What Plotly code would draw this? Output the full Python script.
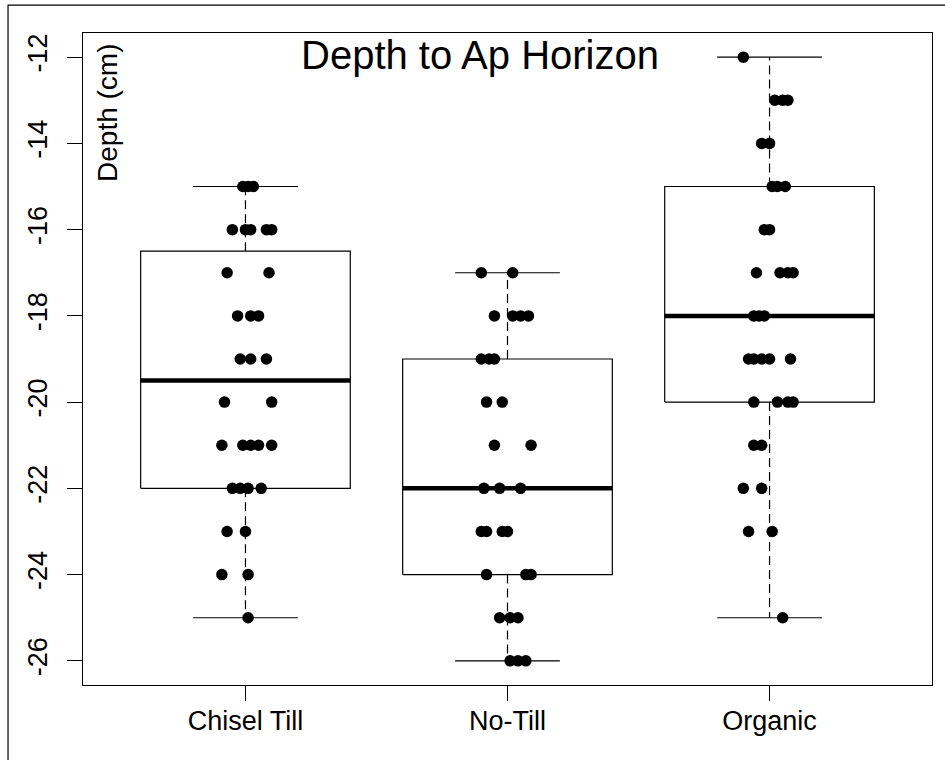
import math
import plotly.graph_objects as go

# ---- data ----
categories = ["Chisel Till", "No-Till", "Organic"]

chisel_depth = [-15, -15, -15,
                -16, -16, -16, -16, -16,
                -17, -17,
                -18, -18, -18,
                -19, -19, -19,
                -20, -20,
                -21, -21, -21, -21, -21,
                -22, -22, -22, -22,
                -23, -23,
                -24, -24,
                -25]
chisel_jitter = [-0.01, 0.01, 0.03,
                 -0.05, 0.00, 0.02, 0.08, 0.10,
                 -0.07, 0.09,
                 -0.03, 0.02, 0.05,
                 -0.02, 0.02, 0.08,
                 -0.08, 0.10,
                 -0.09, -0.01, 0.02, 0.05, 0.10,
                 -0.05, -0.02, 0.01, 0.06,
                 -0.07, 0.00,
                 -0.09, 0.01,
                 0.01]

notill_depth = [-17, -17,
                -18, -18, -18, -18,
                -19, -19, -19,
                -20, -20,
                -21, -21,
                -22, -22, -22,
                -23, -23, -23, -23,
                -24, -24, -24,
                -25, -25, -25,
                -26, -26, -26]
notill_jitter = [-0.10, 0.02,
                 -0.05, 0.02, 0.05, 0.08,
                 -0.10, -0.07, -0.05,
                 -0.08, -0.02,
                 -0.05, 0.09,
                 -0.09, -0.03, 0.05,
                 -0.10, -0.08, -0.02, 0.00,
                 -0.08, 0.07, 0.09,
                 -0.03, 0.01, 0.04,
                 0.01, 0.04, 0.07]

organic_depth = [-12,
                 -13, -13, -13,
                 -14, -14,
                 -15, -15, -15,
                 -16, -16,
                 -17, -17, -17, -17,
                 -18, -18, -18,
                 -19, -19, -19, -19, -19,
                 -20, -20, -20, -20,
                 -21, -21,
                 -22, -22,
                 -23, -23,
                 -25]
organic_jitter = [-0.10,
                  0.02, 0.05, 0.07,
                  -0.03, 0.00,
                  0.01, 0.03, 0.06,
                  -0.02, 0.00,
                  -0.05, 0.04, 0.07, 0.09,
                  -0.06, -0.04, -0.02,
                  -0.08, -0.06, -0.03, 0.00, 0.08,
                  -0.06, 0.03, 0.07, 0.09,
                  -0.06, -0.03,
                  -0.10, -0.03,
                  -0.08, 0.01,
                  0.05]

y_ticks = [-26, -24, -22, -20, -18, -16, -14, -12]
title_text = "Depth to Ap Horizon"
y_label = "Depth (cm)"

groups = [chisel_depth, notill_depth, organic_depth]
jitters = [chisel_jitter, notill_jitter, organic_jitter]


def fivenum(v):
    x = sorted(v)
    n = len(x)
    n4 = math.floor((n + 3) / 2) / 2
    d = [1, n4, (n + 1) / 2, n + 1 - n4, n]
    return [0.5 * (x[math.floor(k - 1)] + x[math.ceil(k - 1)]) for k in d]


fig = go.Figure()
half_box = 0.4
half_staple = 0.2
dash_style = "9px,5px"

for i, vals in enumerate(groups):
    pos = i + 1
    lo, q1, med, q3, hi = fivenum(vals)
    # box
    fig.add_trace(go.Scatter(
        x=[pos - half_box, pos + half_box, pos + half_box, pos - half_box, pos - half_box],
        y=[q1, q1, q3, q3, q1], mode="lines",
        line=dict(color="black", width=1.2), fill="toself", fillcolor="white",
        showlegend=False, hoverinfo="skip"))
    # whiskers
    fig.add_trace(go.Scatter(x=[pos, pos], y=[q3, hi], mode="lines",
                             line=dict(color="black", width=1.2, dash=dash_style),
                             showlegend=False, hoverinfo="skip"))
    fig.add_trace(go.Scatter(x=[pos, pos], y=[q1, lo], mode="lines",
                             line=dict(color="black", width=1.2, dash=dash_style),
                             showlegend=False, hoverinfo="skip"))
    # staples
    for s in (lo, hi):
        fig.add_trace(go.Scatter(x=[pos - half_staple, pos + half_staple], y=[s, s],
                                 mode="lines", line=dict(color="black", width=1.2),
                                 showlegend=False, hoverinfo="skip"))
    # median
    fig.add_trace(go.Scatter(x=[pos - half_box, pos + half_box], y=[med, med],
                             mode="lines", line=dict(color="black", width=4.5),
                             showlegend=False, hoverinfo="skip"))

for i, (vals, jit) in enumerate(zip(groups, jitters)):
    pos = i + 1
    fig.add_trace(go.Scatter(
        x=[pos + j for j in jit], y=vals, mode="markers",
        marker=dict(color="black", size=11.5, line=dict(width=0)),
        showlegend=False, hoverinfo="skip"))

font_family = "Liberation Sans, Arial, sans-serif"

fig.update_layout(
    width=945, height=760,
    margin=dict(l=83, r=13, t=33, b=75),
    paper_bgcolor="white", plot_bgcolor="white",
    font=dict(family=font_family, color="black", size=27),
    xaxis=dict(range=[0.38, 3.62], tickvals=[1, 2, 3], ticktext=categories,
               showgrid=False, zeroline=False, showline=True, mirror=True,
               linecolor="black", linewidth=1.2, ticks="outside", ticklen=15,
               tickcolor="black", tickwidth=1.2, tickfont=dict(size=27),
               ticklabelstandoff=-4),
    yaxis=dict(range=[-26.56, -11.44], tickvals=y_ticks,
               ticktext=[str(t) for t in y_ticks],
               showgrid=False, zeroline=False, showline=True, mirror=True,
               linecolor="black", linewidth=1.2, ticks="outside", ticklen=15,
               tickcolor="black", tickwidth=1.2, tickangle=-90,
               tickfont=dict(size=27), ticklabelstandoff=9),
    annotations=[
        dict(text=title_text, xref="paper", yref="paper", x=0.4676, y=0.966,
             xanchor="center", yanchor="middle", showarrow=False,
             font=dict(size=40, family=font_family, color="black")),
        dict(text=y_label, xref="paper", yref="paper", x=0.028, y=0.877,
             xanchor="center", yanchor="middle", textangle=-90, showarrow=False,
             font=dict(size=28, family=font_family, color="black")),
    ],
    shapes=[dict(type="rect", xref="paper", yref="paper",
                 x0=-0.0883, x1=1.025, y0=-0.125, y1=1.0429,
                 line=dict(color="black", width=1.2), layer="below")],
)

fig.write_html("out.html")
